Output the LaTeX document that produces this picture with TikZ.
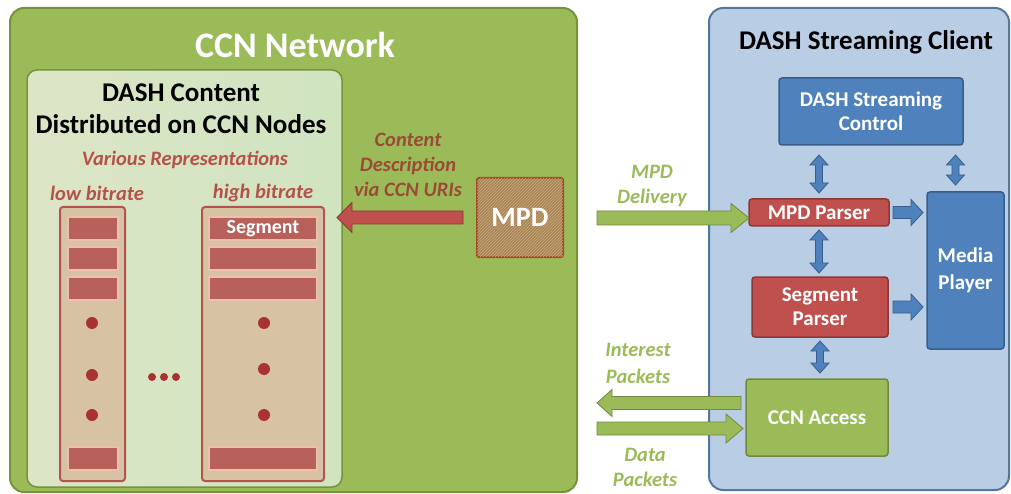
\documentclass[tikz,border=0pt]{standalone}
\usepackage{fontspec}
\setmainfont{Carlito}
\usetikzlibrary{calc,patterns}

\definecolor{ccngreen}{HTML}{9BBB59}
\definecolor{ccnedge}{HTML}{76923C}
\definecolor{paleleft}{HTML}{DCE5C6}
\definecolor{paleright}{HTML}{D0E4C0}
\definecolor{colfill}{HTML}{D8C2A4}
\definecolor{coledge}{HTML}{B3534D}
\definecolor{segfill}{HTML}{B8605A}
\definecolor{segedge}{HTML}{EBC0AE}
\definecolor{dotred}{HTML}{A93232}
\definecolor{reptext}{HTML}{B5514C}
\definecolor{desctext}{HTML}{9B4A35}
\definecolor{mpdfill}{HTML}{A8865A}
\definecolor{mpdhatch}{HTML}{C9AA7A}
\definecolor{mpdedge}{HTML}{A34A2A}
\definecolor{redfill}{HTML}{C0504D}
\definecolor{rededge}{HTML}{8C3836}
\definecolor{clientfill}{HTML}{B9CDE5}
\definecolor{clientedge}{HTML}{55779F}
\definecolor{bluefill}{HTML}{4F81BD}
\definecolor{blueedge}{HTML}{385D8A}
\definecolor{greenedge}{HTML}{71893F}

% parameters of the block arrows
\def\bashaft{6}
\def\bahead{14}
\def\balen{14}

\tikzset{
  bashaft/.code={\def\bashaft{#1}},
  bahead/.code={\def\bahead{#1}},
  balen/.code={\def\balen{#1}},
  % single-headed block arrow from start to target
  blockarrow/.style={to path={
    let \p1=(\tikztostart), \p2=(\tikztotarget),
        \n1={atan2(\y2-\y1,\x2-\x1)},
        \n2={veclen(\x2-\x1,\y2-\y1)-\balen} in
    ($(\p1)+(\n1+90:\bashaft pt)$)
    -- ($(\p1)+(\n1:\n2)+(\n1+90:\bashaft pt)$)
    -- ($(\p1)+(\n1:\n2)+(\n1+90:\bahead pt)$)
    -- (\p2)
    -- ($(\p1)+(\n1:\n2)+(\n1-90:\bahead pt)$)
    -- ($(\p1)+(\n1:\n2)+(\n1-90:\bashaft pt)$)
    -- ($(\p1)+(\n1-90:\bashaft pt)$) -- cycle}},
  % double-headed block arrow
  dblarrow/.style={to path={
    let \p1=(\tikztostart), \p2=(\tikztotarget),
        \n1={atan2(\y2-\y1,\x2-\x1)},
        \n2={veclen(\x2-\x1,\y2-\y1)-\balen} in
    (\p1)
    -- ($(\p1)+(\n1:\balen pt)+(\n1+90:\bahead pt)$)
    -- ($(\p1)+(\n1:\balen pt)+(\n1+90:\bashaft pt)$)
    -- ($(\p1)+(\n1:\n2)+(\n1+90:\bashaft pt)$)
    -- ($(\p1)+(\n1:\n2)+(\n1+90:\bahead pt)$)
    -- (\p2)
    -- ($(\p1)+(\n1:\n2)+(\n1-90:\bahead pt)$)
    -- ($(\p1)+(\n1:\n2)+(\n1-90:\bashaft pt)$)
    -- ($(\p1)+(\n1:\balen pt)+(\n1-90:\bashaft pt)$)
    -- ($(\p1)+(\n1:\balen pt)+(\n1-90:\bahead pt)$) -- cycle}},
}

\begin{document}
\begin{tikzpicture}[x=1pt,y=-1pt,
  every node/.style={inner sep=0pt, outer sep=0pt},
  panel/.style={anchor=north west, rounded corners=14pt, line width=2pt},
  heading/.style={font=\fontsize{27}{32}\selectfont\bfseries, align=center},
  lbl/.style={font=\fontsize{20.5}{25}\selectfont\bfseries\itshape, align=center},
  column/.style={anchor=north west, minimum height=274pt, fill=colfill,
    draw=coledge, line width=2pt, rounded corners=3pt},
  seg/.style={anchor=north west, minimum height=23pt, fill=segfill,
    draw=segedge, line width=1.2pt},
  unit/.style={anchor=north west, rounded corners=3pt, line width=1.5pt,
    align=center, text=white, font=\fontsize{21}{24}\selectfont\bfseries},
  bluebox/.style={unit, fill=bluefill, draw=blueedge},
  redbox/.style={unit, fill=redfill, draw=rededge},
  greenbox/.style={unit, fill=ccngreen, draw=greenedge},
  bluearrow/.style={fill=bluefill, draw=blueedge, line width=0.8pt},
  greenarrow/.style={fill=ccngreen, draw=greenedge, line width=0.8pt},
]
\useasboundingbox (0,0) rectangle (1011,494);

% ---------------- CCN network ----------------
\node[panel, fill=ccngreen, draw=ccnedge, minimum width=567pt,
  minimum height=484pt] (ccn) at (10,8) {};
\node[heading, font=\fontsize{36}{40}\selectfont\bfseries, text=white]
  (ccntitle) at (295,45) {CCN Network};

\node[anchor=north west, minimum width=315pt, minimum height=417pt,
  rounded corners=10pt, draw=ccnedge, line width=1.5pt,
  left color=paleleft, right color=paleright] (content) at (27,70) {};
\node[heading] (contenttitle) at (181,109)
  {DASH Content\\Distributed on CCN Nodes};
\node[lbl, text=reptext] (reps) at (185,160) {Various Representations};
\node[lbl, text=reptext] (lowlbl) at (97,193) {low bitrate};
\node[lbl, text=reptext] (highlbl) at (263,193) {high bitrate};

% representation columns with their segments
\node[column, minimum width=65pt] (lowcol) at (60,207) {};
\node[column, minimum width=122pt] (highcol) at (202,207) {};
\node[seg, minimum width=50pt] (low1) at (68,217) {};
\node[seg, minimum width=50pt] (low2) at (68,247) {};
\node[seg, minimum width=50pt] (low3) at (68,277) {};
\node[seg, minimum width=50pt] (lowN) at (68,447) {};
\node[seg, minimum width=108pt, text=white,
  font=\fontsize{20}{22}\selectfont\bfseries] (high1) at (209,217) {Segment};
\node[seg, minimum width=108pt] (high2) at (209,247) {};
\node[seg, minimum width=108pt] (high3) at (209,277) {};
\node[seg, minimum width=108pt] (highN) at (209,447) {};
\foreach \y in {323,375,415} \fill[dotred] (92,\y) circle (6pt);
\foreach \y in {323,369,415} \fill[dotred] (264,\y) circle (6pt);
\foreach \x in {152,164,176} \fill[dotred] (\x,377) circle (4pt);

% MPD and its description
\node[anchor=north west, minimum width=86pt, minimum height=79pt,
  fill=mpdfill, draw=mpdedge, line width=2pt, rounded corners=2pt,
  postaction={pattern=north east lines, pattern color=mpdhatch},
  text=white, font=\fontsize{28}{30}\selectfont\bfseries] (mpd) at (477,178) {MPD};
\node[lbl, text=desctext] (desc) at (408,165)
  {Content\\Description\\via CCN URIs};
\draw[blockarrow, bashaft=6.5, bahead=15, balen=15, fill=redfill,
  draw=rededge, line width=0.8pt]
  ($(mpd.west)+(-14pt,0pt)$) to ($(content.east |- mpd.west)+(-5pt,0pt)$);

% ---------------- streaming client ----------------
\node[panel, fill=clientfill, draw=clientedge, minimum width=300pt,
  minimum height=482pt] (client) at (709,8) {};
\node[heading] (clienttitle) at (866,42) {DASH Streaming Client};

\node[bluebox, minimum width=184pt, minimum height=67pt] (dsc) at (779,78)
  {DASH Streaming\\Control};
\node[redbox, minimum width=140pt, minimum height=27pt] (mpdp) at (749,199)
  {MPD Parser};
\node[redbox, minimum width=136pt, minimum height=60pt] (segp) at (752,277)
  {Segment\\Parser};
\node[bluebox, minimum width=77pt, minimum height=157pt,
  font=\fontsize{21}{27}\selectfont\bfseries] (player) at (927,192)
  {Media\\Player};
\node[greenbox, minimum width=142pt, minimum height=77pt] (ccna) at (746,379)
  {CCN Access};

% internal interfaces
\draw[dblarrow, bashaft=3.5, bahead=9, balen=10, bluearrow]
  ($(mpdp.north)+(0pt,6pt)$) to ($(mpdp.north |- dsc.south)+(0pt,-10pt)$);
\draw[dblarrow, bashaft=3.5, bahead=9, balen=10, bluearrow]
  ($(player.north)+(-10pt,7pt)$) to ($(player.north |- dsc.south)+(-10pt,-10pt)$);
\draw[dblarrow, bashaft=3.5, bahead=9, balen=10, bluearrow]
  ($(mpdp.south)+(0pt,-4pt)$) to ($(mpdp.south |- segp.north)+(0pt,4pt)$);
\draw[dblarrow, bashaft=3.5, bahead=9, balen=10, bluearrow]
  ($(segp.south)+(0pt,-4pt)$) to ($(segp.south |- ccna.north)+(0pt,6pt)$);
\draw[blockarrow, bashaft=6, bahead=13, balen=12, bluearrow]
  ($(mpdp.east)+(4pt,0pt)$) to ($(player.west |- mpdp.east)+(-4pt,0pt)$);
\draw[blockarrow, bashaft=6, bahead=13, balen=12, bluearrow]
  ($(segp.east)+(5pt,0pt)$) to ($(player.west |- segp.east)+(-4pt,0pt)$);

% ---------------- network <-> client ----------------
\coordinate (mpdsrc) at (597,218);
\coordinate (intdst) at (597,403);
\coordinate (datsrc) at (597,428.5);
\draw[blockarrow, bashaft=7, bahead=14.5, balen=18, greenarrow]
  (mpdsrc) to (mpdp.west |- mpdsrc);
\draw[blockarrow, bashaft=6.5, bahead=13.5, balen=15, greenarrow]
  ($(ccna.west |- intdst)+(-5pt,0pt)$) to (intdst);
\draw[blockarrow, bashaft=6.5, bahead=14.5, balen=17, greenarrow]
  (datsrc) to ($(ccna.west |- datsrc)+(-3pt,0pt)$);

\node[lbl, text=ccngreen] (mpddel) at (652,185.5) {MPD\\Delivery};
\node[lbl, text=ccngreen, font=\fontsize{20.5}{27}\selectfont\bfseries\itshape]
  (intlbl) at (638,363.5) {Interest\\Packets};
\node[lbl, text=ccngreen] (datlbl) at (645,467.5) {Data\\Packets};
\end{tikzpicture}
\end{document}
